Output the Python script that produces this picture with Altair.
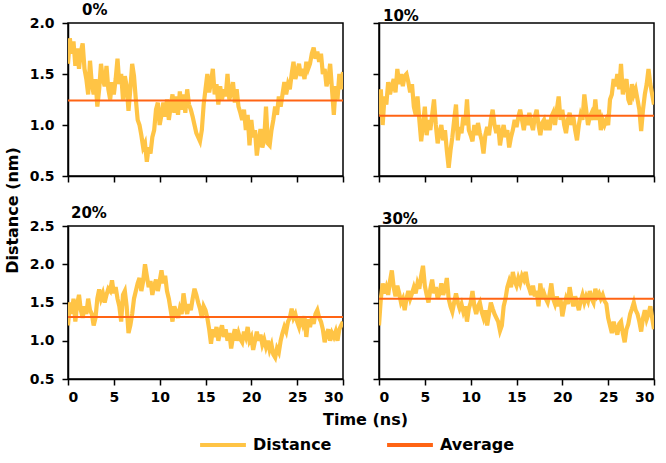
import altair as alt
import pandas as pd
import numpy as np

# ---------------- data ----------------
panels = ["0%", "10%", "20%", "30%"]

dist_0 = [1.60, 1.85, 1.70, 1.82, 1.58, 1.75, 1.55, 1.72, 1.80, 1.55,
          1.45, 1.30, 1.63, 1.40, 1.30, 1.45, 1.18, 1.35, 1.60, 1.45,
          1.38, 1.58, 1.35, 1.25, 1.42, 1.30, 1.45, 1.65, 1.40, 1.50,
          1.25, 1.48, 1.38, 1.14, 1.35, 1.60, 1.48, 1.25, 1.05, 1.00,
          0.90, 0.78, 0.82, 0.64, 0.78, 0.72, 0.88, 0.95, 1.15, 1.22,
          1.00, 1.10, 1.22, 1.08, 1.25, 1.05, 1.18, 1.30, 1.12, 1.28,
          1.10, 1.33, 1.15, 1.30, 1.12, 1.35, 1.20, 1.15, 1.08, 1.00,
          0.92, 0.88, 0.84, 0.95, 1.20, 1.35, 1.50, 1.32, 1.42, 1.55,
          1.30, 1.40, 1.20, 1.38, 1.25, 1.35, 1.28, 1.50, 1.25, 1.32,
          1.42, 1.22, 1.35, 1.18, 1.12, 1.05, 1.15, 0.95, 1.10, 0.80,
          1.05, 0.88, 0.95, 0.70, 0.85, 0.96, 0.78, 0.85, 1.18, 0.82,
          0.80, 0.95, 1.05, 1.18, 1.10, 1.28, 1.18, 1.30, 1.42, 1.30,
          1.40, 1.35, 1.50, 1.62, 1.45, 1.52, 1.60, 1.48, 1.55, 1.45,
          1.62, 1.55, 1.60, 1.70, 1.76, 1.65, 1.72, 1.62, 1.70, 1.50,
          1.55, 1.38, 1.45, 1.60, 1.35, 1.10, 1.38, 1.25, 1.50, 1.35,
          1.52]

dist_10 = [1.10, 1.35, 1.00, 1.28, 1.20, 1.42, 1.30, 1.38, 1.45, 1.32,
           1.55, 1.40, 1.50, 1.38, 1.48, 1.50, 1.42, 1.32, 1.40, 1.18,
           1.10, 1.28, 1.05, 0.84, 1.00, 1.18, 0.90, 1.05, 0.95, 1.10,
           1.25, 1.00, 0.82, 0.92, 1.00, 0.85, 0.95, 0.75, 0.58, 0.75,
           0.88, 1.05, 1.20, 0.85, 0.98, 0.92, 1.08, 1.00, 1.25, 0.95,
           0.90, 0.84, 1.00, 0.90, 1.02, 0.92, 0.85, 0.72, 0.90, 0.98,
           0.90, 1.05, 1.15, 1.00, 0.92, 1.00, 0.80, 0.92, 1.00, 0.88,
           0.95, 0.78, 0.88, 0.95, 1.05, 0.98, 1.08, 1.15, 1.05, 0.95,
           1.08, 1.00, 1.12, 1.02, 0.95, 1.08, 1.15, 1.00, 0.90, 1.02,
           1.05, 0.95, 1.05, 0.95, 1.08, 1.12, 1.00, 1.15, 1.28, 1.05,
           1.15, 1.00, 0.92, 1.05, 1.12, 1.00, 1.08, 0.95, 0.85, 1.00,
           1.10, 1.05, 1.30, 1.15, 1.00, 1.08, 1.12, 1.05, 1.25, 1.05,
           1.15, 0.95, 1.05, 1.00, 1.05, 1.00, 1.25, 1.30, 1.45, 1.38,
           1.50, 1.35, 1.60, 1.30, 1.40, 1.45, 1.25, 1.20, 1.40, 1.30,
           1.35, 1.25, 1.15, 0.94, 1.15, 1.30, 1.40, 1.55, 1.40, 1.30,
           1.20]

dist_20 = [1.20, 1.50, 1.35, 1.55, 1.25, 1.48, 1.60, 1.40, 1.30, 1.45,
           1.35, 1.55, 1.40, 1.35, 1.20, 1.30, 1.55, 1.67, 1.55, 1.62,
           1.50, 1.60, 1.68, 1.65, 1.79, 1.62, 1.70, 1.55, 1.45, 1.25,
           1.60, 1.65, 1.45, 1.10, 1.20, 1.35, 1.55, 1.65, 1.75, 1.82,
           1.65, 1.78, 2.00, 1.85, 1.70, 1.78, 1.60, 1.72, 1.80, 1.65,
           1.78, 1.92, 1.75, 1.85, 1.65, 1.55, 1.40, 1.25, 1.45, 1.38,
           1.30, 1.42, 1.35, 1.62, 1.45, 1.35, 1.48, 1.40, 1.55, 1.68,
           1.60, 1.50, 1.42, 1.30, 1.45, 1.40, 1.30, 1.15, 0.96, 1.15,
           1.05, 1.18, 1.00, 1.12, 1.20, 1.05, 1.15, 1.00, 1.10, 0.90,
           1.05, 1.15, 1.00, 1.10, 1.02, 0.98, 1.12, 1.05, 1.18, 1.00,
           1.05, 0.88, 1.00, 1.12, 1.00, 1.08, 0.95, 1.02, 0.92, 1.00,
           0.88, 0.95, 0.82, 0.78, 0.90, 0.85, 1.00, 1.10, 1.18, 1.12,
           1.25, 1.30, 1.42, 1.30, 1.35, 1.25, 1.18, 1.30, 1.22, 1.32,
           1.05, 1.28, 1.18, 1.30, 1.22, 1.35, 1.40, 1.30, 1.25, 1.15,
           0.98, 1.08, 1.15, 1.00, 1.10, 1.05, 1.12, 1.00, 1.15, 1.20,
           1.25]

dist_30 = [1.20, 1.55, 1.75, 1.62, 1.70, 1.60, 1.78, 1.92, 1.70, 1.58,
           1.72, 1.62, 1.50, 1.55, 1.40, 1.55, 1.65, 1.55, 1.62, 1.70,
           1.62, 1.75, 1.68, 1.85, 1.98, 1.72, 1.60, 1.50, 1.68, 1.80,
           1.62, 1.70, 1.55, 1.62, 1.75, 1.60, 1.68, 1.82, 1.55, 1.45,
           1.38, 1.50, 1.62, 1.50, 1.42, 1.48, 1.38, 1.45, 1.25, 1.42,
           1.50, 1.65, 1.45, 1.35, 1.45, 1.50, 1.38, 1.30, 1.40, 1.20,
           1.35, 1.50, 1.42, 1.35, 1.30, 1.25, 1.13, 1.20, 1.45, 1.55,
           1.70, 1.78, 1.70, 1.90, 1.78, 1.72, 1.82, 1.75, 1.85, 1.80,
           1.90, 1.75, 1.68, 1.60, 1.72, 1.58, 1.65, 1.45, 1.75, 1.55,
           1.62, 1.55, 1.50, 1.60, 1.75, 1.55, 1.48, 1.58, 1.45, 1.55,
           1.32, 1.45, 1.55, 1.48, 1.70, 1.55, 1.45, 1.58, 1.50, 1.40,
           1.52, 1.60, 1.50, 1.58, 1.52, 1.65, 1.55, 1.50, 1.68, 1.58,
           1.62, 1.55, 1.60, 1.52, 1.48, 1.30, 1.20, 1.10, 1.25, 1.15,
           1.08, 1.22, 1.25, 1.10, 0.98, 1.15, 1.22, 1.35, 1.42, 1.50,
           1.40, 1.35, 1.25, 1.12, 1.30, 1.40, 1.28, 1.35, 1.45, 1.30,
           1.15]

averages = [1.24, 1.09, 1.31, 1.55]
series_names = ["Distance", "Average"]
series_colors = ["#FFC445", "#FF6414"]
x_ticks = [0, 5, 10, 15, 20, 25, 30]
y_ticks_top = [0.5, 1.0, 1.5, 2.0]
y_ticks_bottom = [0.5, 1.0, 1.5, 2.0, 2.5]

# ---------------- chart ----------------
W, H = 275, 153
FONT = "DejaVu Sans"

color_scale = alt.Scale(domain=series_names, range=series_colors)
legend = alt.Legend(
    title=None, orient="none", legendX=130, legendY=397,
    direction="horizontal", symbolType="stroke", symbolSize=2100,
    symbolStrokeWidth=4, labelFont=FONT, labelFontSize=16,
    labelFontWeight="bold", labelColor="black", columnPadding=47,
    labelOffset=5,
)


def panel(name, vals, avg, ydom, yticks, show_xlab, show_ylab,
          ytitle=None, xtitle=None, title_dx=0):
    t = np.round(np.linspace(0, 30, len(vals)), 3)
    df = pd.DataFrame({"t": t, "v": vals, "series": series_names[0]})
    adf = pd.DataFrame({"avg": [avg], "series": [series_names[1]]})

    xaxis_kw = dict(values=x_ticks, tickCount=len(x_ticks), labels=show_xlab,
                    grid=False, tickSize=6, labelPadding=5)
    if xtitle:
        xaxis_kw.update(titleX=297, titlePadding=7)
    yaxis_kw = dict(values=yticks, tickCount=len(yticks), labels=show_ylab,
                    grid=False, format=".1f", tickSize=6, labelPadding=8)
    if ytitle:
        yaxis_kw.update(titleY=187, titlePadding=9)

    x = alt.X("t:Q", scale=alt.Scale(domain=[0, 30], nice=False),
              axis=alt.Axis(**xaxis_kw), title=xtitle)
    y = alt.Y("v:Q", scale=alt.Scale(domain=ydom, nice=False),
              axis=alt.Axis(**yaxis_kw), title=ytitle)

    line = alt.Chart(df).mark_line(strokeWidth=4.2, clip=True).encode(
        x=x, y=y,
        color=alt.Color("series:N", scale=color_scale, legend=legend),
    )
    rule = alt.Chart(adf).mark_rule(strokeWidth=2).encode(
        y=alt.Y("avg:Q"),
        color=alt.Color("series:N", scale=color_scale, legend=legend),
    )
    return alt.layer(line, rule).properties(
        width=W, height=H,
        title=alt.TitleParams(text=name, anchor="start", frame="group",
                              font=FONT, fontSize=15, fontWeight="bold",
                              color="black", offset=-2, dx=title_dx),
    )


p0 = panel(panels[0], dist_0, averages[0], [0.5, 2.0], y_ticks_top,
           False, True, ytitle="Distance (nm)", title_dx=14)
p1 = panel(panels[1], dist_10, averages[1], [0.5, 2.0], y_ticks_top,
           False, False, title_dx=4)
p2 = panel(panels[2], dist_20, averages[2], [0.5, 2.5], y_ticks_bottom,
           True, True, xtitle="Time (ns)", title_dx=3)
p3 = panel(panels[3], dist_30, averages[3], [0.5, 2.5], y_ticks_bottom,
           True, False, title_dx=3)

chart = alt.concat(
    p0, p1, p2, p3, columns=2, spacing={"row": 50, "column": 36},
    bounds="flush",
).properties(
    padding={"left": 3, "top": 2, "right": 5, "bottom": 5},
    background="white",
).configure_view(
    stroke="black", strokeWidth=1.5
).configure_axis(
    labelFont=FONT, labelFontSize=14, labelFontWeight="bold",
    labelColor="black", titleFont=FONT, titleFontSize=16,
    titleFontWeight="bold", titleColor="black",
    domainColor="black", domainWidth=1.5, tickColor="black", tickWidth=1.5,
)

chart.save("out.html", embed_options={"renderer": "svg", "actions": False})
